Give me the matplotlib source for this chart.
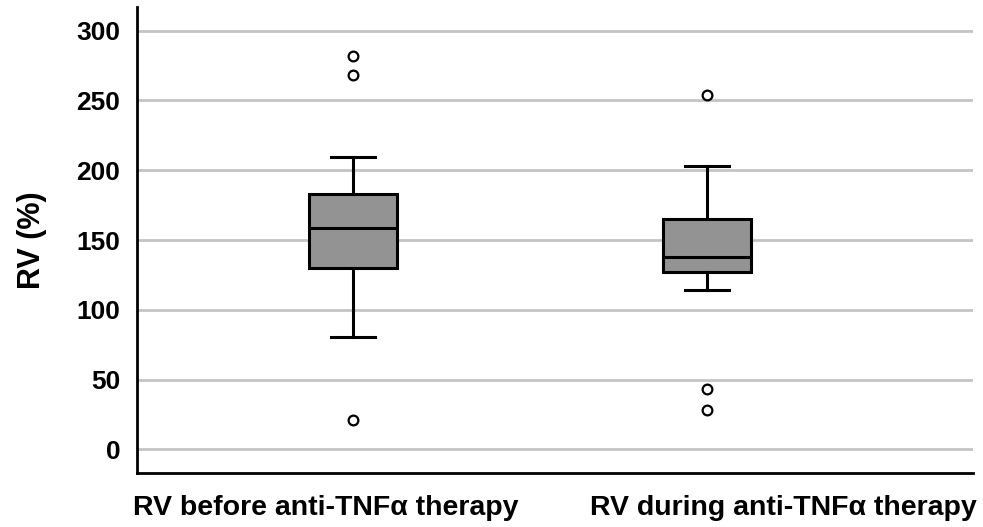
import matplotlib
matplotlib.use("Agg")
import matplotlib.pyplot as plt

plt.rcParams['font.family'] = ['Liberation Sans', 'DejaVu Sans']

# valores
etiquetas = ['RV before anti-TNFα therapy', 'RV during anti-TNFα therapy']
whisker_bajo = [80.5, 114]
q1 = [129.7, 126.8]
mediana = [158.7, 138.1]
q3 = [182.8, 165.4]
whisker_alto = [209.6, 203.3]
outliers = [[282, 268, 21], [253.6, 43.5, 28]]

stats = []
for i in range(len(etiquetas)):
    stats.append({'whislo': whisker_bajo[i], 'q1': q1[i], 'med': mediana[i],
                  'q3': q3[i], 'whishi': whisker_alto[i], 'fliers': outliers[i]})

fig = plt.figure(figsize=(9.83, 5.27), dpi=100)
ax = fig.add_axes([0.1394, 0.103, 0.8505, 0.8837])

ax.set_axisbelow(True)
ax.yaxis.grid(True, color='#c4c4c4', linewidth=2)

ax.bxp(stats, positions=[1, 2], widths=0.25, patch_artist=True,
       boxprops=dict(facecolor='#939393', edgecolor='black', linewidth=2.2),
       medianprops=dict(color='black', linewidth=2.2),
       whiskerprops=dict(color='black', linewidth=2.2),
       capprops=dict(color='black', linewidth=2.2), capwidths=0.125,
       flierprops=dict(marker='o', markerfacecolor='white', markeredgecolor='black',
                       markersize=7, markeredgewidth=1.6))

ax.set_xlim(0.39, 2.751)
ax.set_ylim(-16.8, 317)
ax.set_yticks([0, 50, 100, 150, 200, 250, 300])
# las etiquetas del eje x no estan centradas en las cajas
ax.set_xticks([0.924, 2.215])
ax.set_xticklabels(etiquetas)
ax.tick_params(axis='y', length=0, labelsize=19, pad=12)
ax.tick_params(axis='x', length=0, labelsize=20.5, pad=16)
for lab in ax.get_xticklabels() + ax.get_yticklabels():
    lab.set_fontweight('bold')
ax.set_ylabel('RV (%)', fontsize=22, fontweight='bold', labelpad=21)

for s in ['top', 'right']:
    ax.spines[s].set_visible(False)
ax.spines['left'].set_linewidth(2)
ax.spines['bottom'].set_linewidth(2)

plt.savefig('out.png', dpi=100)
